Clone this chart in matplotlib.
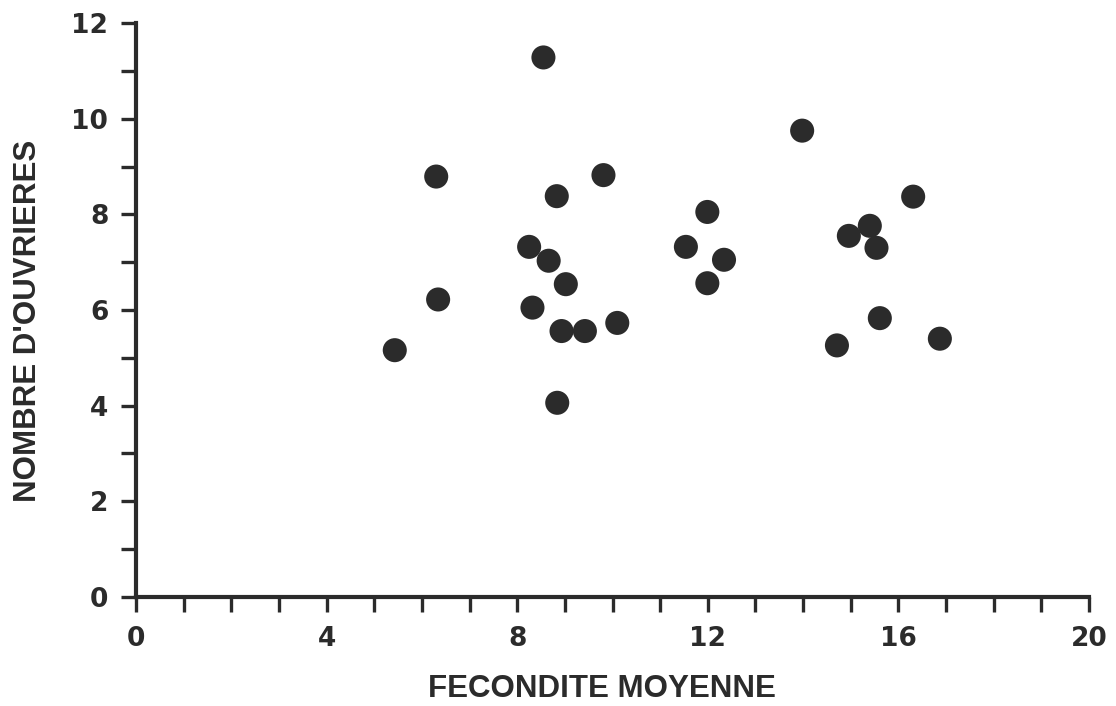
import matplotlib.pyplot as plt
from matplotlib.ticker import MultipleLocator

# fecondite moyenne vs nombre d'ouvrieres
fecondite = [5.43, 6.30, 6.34, 8.55, 8.25, 8.32, 8.66, 8.83, 9.02, 8.93,
             9.42, 8.84, 9.81, 10.10, 11.54, 11.99, 11.99, 12.34, 13.98,
             14.71, 14.96, 15.40, 15.54, 15.61, 16.31, 16.87]
ouvrieres = [5.16, 8.79, 6.22, 11.28, 7.32, 6.05, 7.03, 8.38, 6.54, 5.56,
             5.56, 4.06, 8.82, 5.73, 7.32, 8.05, 6.56, 7.05, 9.75,
             5.26, 7.55, 7.76, 7.30, 5.83, 8.37, 5.40]

x_ticks = [0, 4, 8, 12, 16, 20]
y_ticks = [0, 2, 4, 6, 8, 10, 12]

INK = "#2b2b2b"

plt.rcParams["font.family"] = ["Liberation Sans", "DejaVu Sans"]
plt.rcParams["font.weight"] = "bold"

fig = plt.figure(figsize=(11.16, 7.06), dpi=100)
ax = fig.add_axes([0.1219, 0.1544, 0.8539, 0.8130])

ax.scatter(fecondite, ouvrieres, s=300, color=INK, edgecolors="none", zorder=3, clip_on=False)

ax.set_xlim(0, 20)
ax.set_ylim(0, 12)
ax.set_xticks(x_ticks)
ax.set_yticks(y_ticks)
ax.xaxis.set_minor_locator(MultipleLocator(1))
ax.yaxis.set_minor_locator(MultipleLocator(1))

for side in ("top", "right"):
    ax.spines[side].set_visible(False)
for side in ("left", "bottom"):
    ax.spines[side].set_linewidth(3.0)
    ax.spines[side].set_color(INK)
    ax.spines[side].set_capstyle("projecting")

ax.tick_params(which="both", direction="out", length=11, width=2.4, color=INK,
               labelcolor=INK, labelsize=19)
ax.tick_params(axis="x", pad=10)
ax.tick_params(axis="y", pad=9)
for lab in ax.get_xticklabels() + ax.get_yticklabels():
    lab.set_family(["DejaVu Sans"])
    lab.set_fontweight("bold")

ax.set_xlabel("FECONDITE MOYENNE", fontsize=22.5, fontweight="bold", color=INK)
ax.set_ylabel("NOMBRE D'OUVRIERES", fontsize=22.5, fontweight="bold", color=INK)
# the scan has both titles a little off centre
ax.xaxis.set_label_coords(0.489, -0.135)
ax.yaxis.set_label_coords(-0.098, 0.481)

fig.savefig("out.png", dpi=100, facecolor="white")
